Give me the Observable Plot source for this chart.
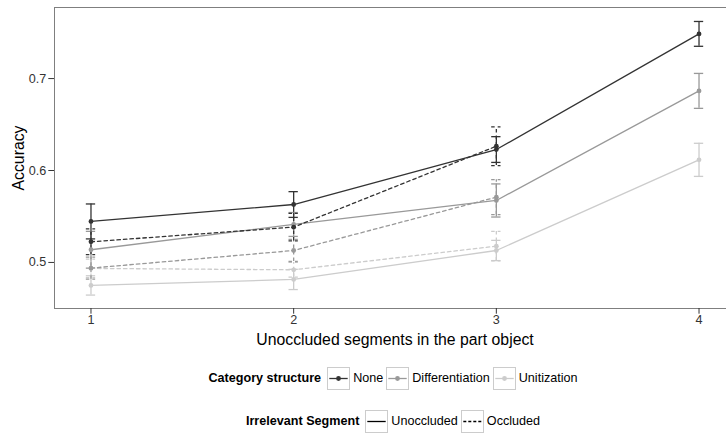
<!DOCTYPE html>
<html>
<head>
<meta charset="utf-8">
<script src="https://cdn.jsdelivr.net/npm/d3@7"></script>
<script src="https://cdn.jsdelivr.net/npm/@observablehq/plot@0.6"></script>
<style>
  html, body { margin: 0; padding: 0; background: #fff; }
  body { width: 726px; height: 434px; overflow: hidden; font-family: "Liberation Sans", Arial, sans-serif; }
  .legend-row { position: absolute; left: 63px; width: 663px; display: flex; justify-content: center; align-items: center; font-size: 12.6px; color: #000; }
  .legend-title { font-weight: bold; margin-right: 6px; white-space: nowrap; }
  .key { width: 23px; height: 23px; display: block; }
  .lab { margin: 0 3px; white-space: nowrap; }
</style>
</head>
<body>
<div id="chart" style="position:relative;"></div>
<script>
// ---- data ----
const segments = [1, 2, 3, 4];
const categories = ["None", "Differentiation", "Unitization"];
const catColors = ["#333333", "#999999", "#cccccc"];
const segTypes = ["Unoccluded", "Occluded"];

const noneUnocc = [0.5446, 0.5630, 0.6228, 0.7486];
const noneUnoccErr = [0.019, 0.014, 0.014, 0.0135];
const noneOcc = [0.5225, 0.5384, 0.6264];
const noneOccErr = [0.014, 0.015, 0.021];

const diffUnocc = [0.5138, 0.5413, 0.5674, 0.6866];
const diffUnoccErr = [0.020, 0.013, 0.018, 0.019];
const diffOcc = [0.4938, 0.5130, 0.5710];
const diffOccErr = [0.012, 0.012, 0.019];

const unitUnocc = [0.4750, 0.4815, 0.5130, 0.6116];
const unitUnoccErr = [0.0105, 0.011, 0.011, 0.018];
const unitOcc = [0.4935, 0.4920, 0.5177];
const unitOccErr = [0.010, 0.008, 0.016];

const yTicks = [0.5, 0.6, 0.7];

// ---- build table ----
function rows(vals, errs, cat, seg) {
  return vals.map((v, i) => ({x: segments[i], y: v, err: errs[i], cat, seg}));
}
const data = [
  ...rows(unitUnocc, unitUnoccErr, "Unitization", "Unoccluded"),
  ...rows(unitOcc, unitOccErr, "Unitization", "Occluded"),
  ...rows(diffUnocc, diffUnoccErr, "Differentiation", "Unoccluded"),
  ...rows(diffOcc, diffOccErr, "Differentiation", "Occluded"),
  ...rows(noneUnocc, noneUnoccErr, "None", "Unoccluded"),
  ...rows(noneOcc, noneOccErr, "None", "Occluded")
];

const dashes = {Unoccluded: null, Occluded: "3.5,3"};
const capHalf = 0.023;
const lw = 1.3;

function segMarks(seg) {
  const d = data.filter(r => r.seg === seg);
  const dash = dashes[seg];
  return [
    Plot.ruleX(d, {x: "x", y1: r => r.y - r.err, y2: r => r.y + r.err, stroke: "cat", strokeWidth: lw, strokeDasharray: dash}),
    Plot.ruleY(d, {y: r => r.y + r.err, x1: r => r.x - capHalf, x2: r => r.x + capHalf, stroke: "cat", strokeWidth: lw, strokeDasharray: dash}),
    Plot.ruleY(d, {y: r => r.y - r.err, x1: r => r.x - capHalf, x2: r => r.x + capHalf, stroke: "cat", strokeWidth: lw, strokeDasharray: dash}),
    Plot.line(d, {x: "x", y: "y", z: "cat", stroke: "cat", strokeWidth: lw, strokeDasharray: dash}),
  ];
}

const chart = Plot.plot({
  width: 726,
  height: 348,
  marginLeft: 54,
  marginRight: -9,
  marginTop: 7,
  marginBottom: 40,
  style: {fontFamily: "'Liberation Sans', Arial, sans-serif", fontSize: "12.6px", background: "#fff", color: "#333"},
  x: {domain: [0.82, 4.18]},
  y: {domain: [0.4499, 0.7773]},
  color: {domain: categories, range: catColors},
  marks: [
    Plot.frame({stroke: "#7f7f7f", strokeWidth: 1}),
    ...segMarks("Unoccluded"),
    ...segMarks("Occluded"),
    Plot.dot(data, {x: "x", y: "y", fill: "cat", r: 2.4}),
    Plot.axisX({ticks: segments, tickFormat: d => String(d), tickSize: 5.7, tickPadding: 1, color: "#333", fontSize: 12.6, label: null}),
    Plot.axisY({ticks: yTicks, tickFormat: d3.format(".1f"), tickSize: 5.7, tickPadding: 2.5, color: "#333", fontSize: 12.6, label: null}),
    Plot.text(["Accuracy"], {frameAnchor: "left", dx: -36, rotate: -90, textAnchor: "middle", lineAnchor: "middle", fontSize: 15.8, fill: "#000"}),
    Plot.text(["Unoccluded segments in the part object"], {frameAnchor: "bottom", dy: 31, textAnchor: "middle", lineAnchor: "middle", fontSize: 15.8, fill: "#000"})
  ]
});
document.getElementById("chart").appendChild(chart);

// ---- legends ----
function keySvg(color, dash, dot) {
  const ns = "http://www.w3.org/2000/svg";
  const s = document.createElementNS(ns, "svg");
  s.setAttribute("width", 23); s.setAttribute("height", 23); s.setAttribute("class", "key");
  const r = document.createElementNS(ns, "rect");
  r.setAttribute("x", 0.5); r.setAttribute("y", 0.5); r.setAttribute("width", 22); r.setAttribute("height", 22);
  r.setAttribute("fill", "#fff"); r.setAttribute("stroke", "#cccccc");
  s.appendChild(r);
  const l = document.createElementNS(ns, "line");
  l.setAttribute("x1", 2.3); l.setAttribute("x2", 20.7); l.setAttribute("y1", 11.5); l.setAttribute("y2", 11.5);
  l.setAttribute("stroke", color); l.setAttribute("stroke-width", lw);
  if (dash) l.setAttribute("stroke-dasharray", dash);
  s.appendChild(l);
  if (dot) {
    const c = document.createElementNS(ns, "circle");
    c.setAttribute("cx", 11.5); c.setAttribute("cy", 11.5); c.setAttribute("r", 2.4); c.setAttribute("fill", color);
    s.appendChild(c);
  }
  return s;
}
function legendRow(title, items, top) {
  const row = document.createElement("div");
  row.className = "legend-row";
  row.style.top = top + "px";
  const t = document.createElement("span"); t.className = "legend-title"; t.textContent = title; row.appendChild(t);
  items.forEach(it => {
    row.appendChild(keySvg(it.color, it.dash, it.dot));
    const l = document.createElement("span"); l.className = "lab"; l.textContent = it.label; row.appendChild(l);
  });
  document.getElementById("chart").appendChild(row);
}
legendRow("Category structure", categories.map((c, i) => ({label: c, color: catColors[i], dash: null, dot: true})), 366.5);
legendRow("Irrelevant Segment", segTypes.map(s => ({label: s, color: "#000", dash: s === "Occluded" ? "3,2" : null, dot: false})), 409.5);
</script>
</body>
</html>
